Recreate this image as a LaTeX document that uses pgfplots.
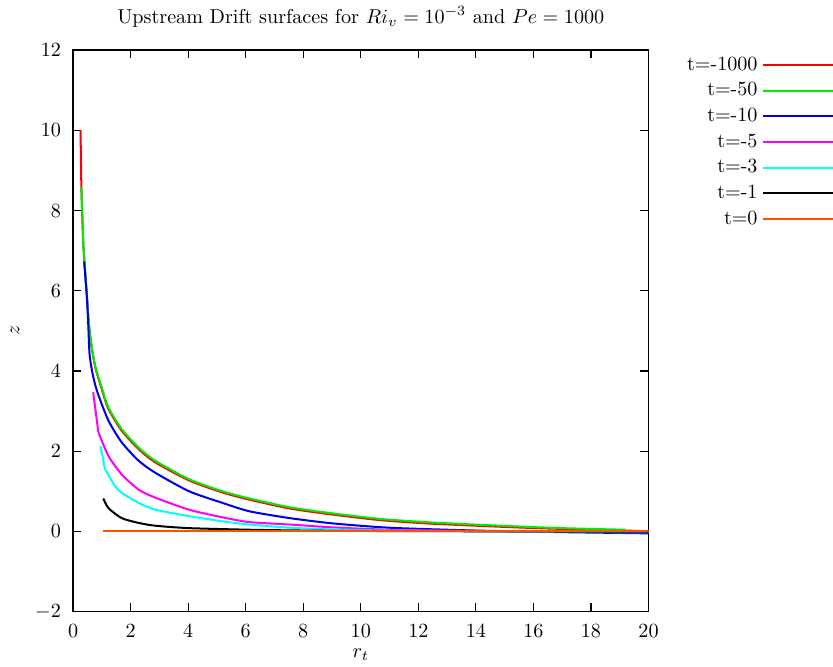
\documentclass[border=0pt]{standalone}
\usepackage{pgfplots}
\pgfplotsset{compat=1.18}
\definecolor{gred}{RGB}{255,0,0}
\definecolor{ggreen}{RGB}{0,235,0}
\definecolor{gblue}{RGB}{0,0,230}
\definecolor{gmag}{RGB}{255,0,255}
\definecolor{gcyan}{RGB}{0,255,255}
\definecolor{gorange}{RGB}{255,80,0}
\begin{document}
\begin{tikzpicture}
\begin{axis}[
  scale only axis, width=286pt, height=279pt,
  xmin=0, xmax=20, ymin=-2, ymax=12,
  xtick={0,2,...,20}, ytick={-2,0,...,12},
  title={Upstream Drift surfaces for $Ri_v=10^{-3}$ and $Pe=1000$},
  title style={yshift=2pt},
  xlabel={$r_t$}, ylabel={$z$},
  xticklabel style={yshift=-3pt},
  yticklabel style={xshift=-2.5pt},
  xlabel style={yshift=1.5pt},
  ylabel style={yshift=1pt},
  axis line style={line width=0.8pt},
  tick style={line width=0.6pt, black},
  major tick length=4pt,
  legend plot pos=right, legend cell align=right,
  legend style={at={(1,1)}, anchor=north west, xshift=14pt, yshift=1pt, draw=none, fill=none, row sep=0.6pt},
  legend image code/.code={\path (0pt,0pt) -- (31.5pt,0pt);
    \pgfinterruptboundingbox\draw[#1,line width=1pt] (6pt,0pt) -- (35pt,0pt);\endpgfinterruptboundingbox},
  every axis plot/.append style={line width=1pt},
]
\addplot[gred, smooth, tension=0.4] coordinates {(0.26,10) (0.29,8.56) (0.35,7.27) (0.40,6.67) (0.47,5.97) (0.55,5.17) (0.65,4.57) (0.78,4.07) (0.99,3.56) (1.23,3.05) (1.69,2.51) (2.28,2.05) (2.86,1.72) (4.03,1.27) (5.19,0.97) (6.13,0.79) (7.53,0.57) (9,0.42) (10.68,0.28) (12.5,0.19) (15.36,0.10) (17,0.06) (19.2,0.02) (20,0.0)};
\addlegendentry{t=-1000}
\addplot[ggreen, smooth, tension=0.4] coordinates {(0.29,8.59) (0.35,7.3) (0.40,6.7) (0.47,6.0) (0.55,5.2) (0.65,4.6) (0.78,4.1) (0.99,3.6) (1.23,3.09) (1.69,2.55) (2.28,2.09) (2.86,1.76) (4.03,1.30) (5.19,1.00) (6.13,0.82) (7.53,0.6) (9,0.45) (10.68,0.31) (12.5,0.22) (15.36,0.125) (17,0.08) (19.2,0.04)};
\addlegendentry{t=-50}
\addplot[gblue, smooth, tension=0.4] coordinates {(0.385,6.73) (0.47,5.95) (0.52,5.3) (0.57,4.45) (0.66,4.0) (0.76,3.68) (0.88,3.4) (1.23,2.76) (1.69,2.22) (2.28,1.76) (2.86,1.46) (4.03,1.0) (5.19,0.71) (6.13,0.5) (7.53,0.33) (9,0.2) (11,0.09) (14,0.02) (17,-0.02) (20,-0.05)};
\addlegendentry{t=-10}
\addplot[gmag, smooth, tension=0.4] coordinates {(0.88,2.47) (1.23,1.88) (1.69,1.42) (2.28,1.04) (2.86,0.84) (4.03,0.54) (5.19,0.35) (6.13,0.23) (7.53,0.17) (9,0.1) (11,0.04) (14,0.01) (17,-0.01) (20,-0.02)};
\addlegendentry{t=-5}
\addplot[gcyan, smooth, tension=0.4] coordinates {(1.11,1.55) (1.46,1.13) (1.69,0.96) (2.28,0.71) (2.86,0.54) (4.03,0.38) (5.19,0.25) (6.13,0.17) (7.53,0.09) (9,0.05) (11,0.02) (14,0.0) (20,-0.02)};
\addlegendentry{t=-3}
\addplot[black, smooth, tension=0.4] coordinates {(1.05,0.82) (1.23,0.58) (1.69,0.33) (2.28,0.21) (2.86,0.14) (4.03,0.08) (6.13,0.04) (8,0.02) (10,0.01) (20,-0.01)};
\addlegendentry{t=-1}
\addplot[gorange] coordinates {(1.05,0) (20,0)};
\addlegendentry{t=0}
\addplot[gmag, forget plot] coordinates {(0.70,3.47) (0.88,2.47)};
\addplot[gcyan, forget plot] coordinates {(0.96,2.12) (1.11,1.55)};
\end{axis}
\path (current bounding box.west) ++(-2pt,0pt);
\end{tikzpicture}
\end{document}
